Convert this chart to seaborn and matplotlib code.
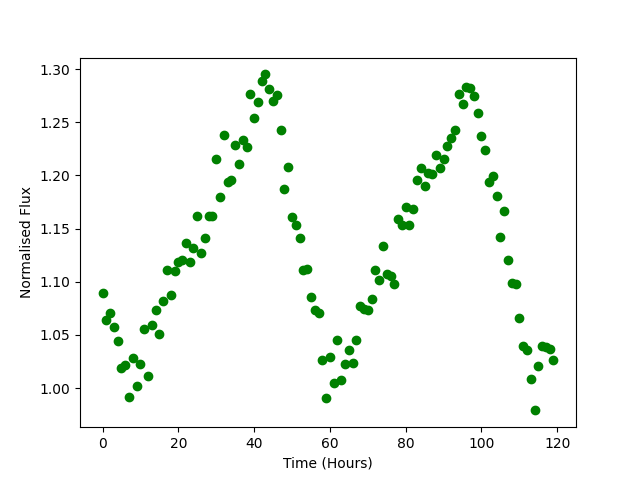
import matplotlib
matplotlib.use('Agg')
import matplotlib.pyplot as plt
import seaborn as sns
import numpy as np
import pandas as pd

hours = list(range(120))
flux = [1.089, 1.064, 1.071, 1.057, 1.044, 1.019, 1.022, 0.992, 1.028, 1.002,
        1.023, 1.056, 1.011, 1.059, 1.073, 1.051, 1.082, 1.111, 1.088, 1.110,
        1.119, 1.120, 1.136, 1.119, 1.132, 1.162, 1.127, 1.141, 1.162, 1.162,
        1.215, 1.180, 1.238, 1.194, 1.196, 1.229, 1.211, 1.233, 1.227, 1.277,
        1.254, 1.269, 1.289, 1.295, 1.281, 1.270, 1.276, 1.243, 1.187, 1.208,
        1.161, 1.153, 1.141, 1.111, 1.112, 1.086, 1.073, 1.071, 1.026, 0.991,
        1.029, 1.005, 1.045, 1.008, 1.023, 1.036, 1.024, 1.045, 1.077, 1.074,
        1.073, 1.084, 1.111, 1.102, 1.134, 1.107, 1.105, 1.098, 1.159, 1.153,
        1.170, 1.153, 1.168, 1.196, 1.207, 1.190, 1.202, 1.201, 1.219, 1.207,
        1.215, 1.228, 1.235, 1.243, 1.277, 1.267, 1.283, 1.282, 1.275, 1.259,
        1.237, 1.224, 1.194, 1.199, 1.181, 1.142, 1.167, 1.120, 1.099, 1.098,
        1.066, 1.040, 1.036, 1.009, 0.979, 1.021, 1.040, 1.039, 1.037, 1.026]

df = pd.DataFrame({'hours': hours, 'flux': flux})

fig, ax = plt.subplots(figsize=(6.4, 4.8), dpi=100)
sns.scatterplot(data=df, x='hours', y='flux', ax=ax, color='green',
                s=36, edgecolor='green', linewidth=1)
ax.set_xlabel('Time (Hours)')
ax.set_ylabel('Normalised Flux')
ax.set_xticks(np.arange(0, 121, 20))
ax.set_yticks(np.arange(1.00, 1.301, 0.05))
plt.savefig('out.png')
